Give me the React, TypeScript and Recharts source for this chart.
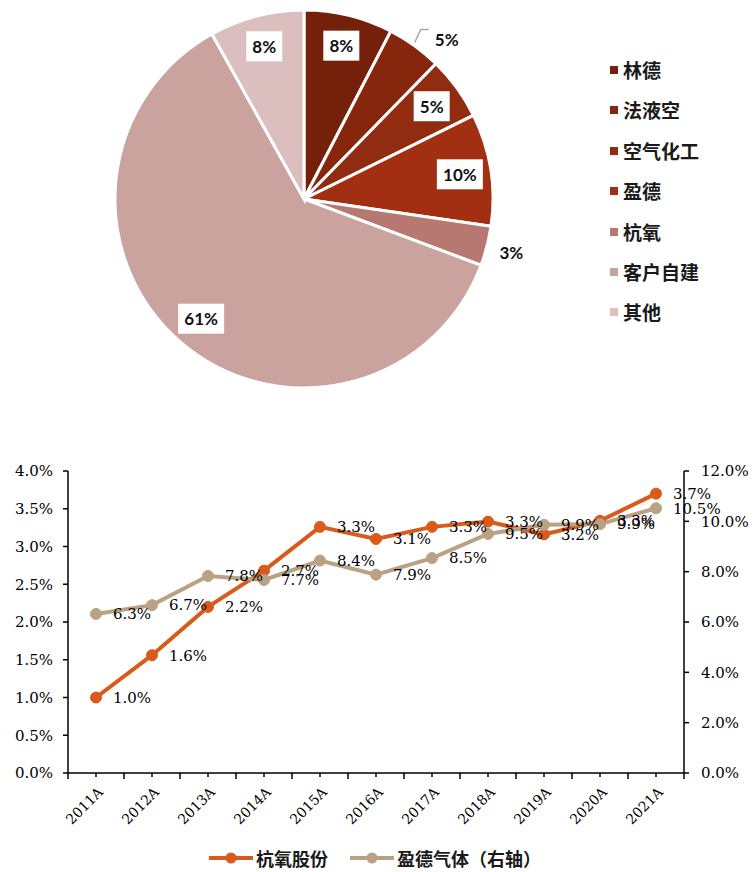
import { PieChart, Pie, Cell, LineChart, Line, XAxis, YAxis, LabelList } from 'recharts';

// 市场份额
const shareNames = ['林德', '法液空', '空气化工', '盈德', '杭氧', '客户自建', '其他'];
const shareValues = [7.6, 4.7, 5.4, 9.6, 3.4, 61.2, 8.1];
const shareColors = ['#74200b', '#86260d', '#922c10', '#a32f12', '#b87872', '#caa39e', '#dbbfbe'];

// 毛利率 / 市占率走势
const years = ['2011A', '2012A', '2013A', '2014A', '2015A', '2016A', '2017A', '2018A', '2019A', '2020A', '2021A'];
const hangyang = [1.0, 1.56, 2.2, 2.68, 3.26, 3.1, 3.26, 3.33, 3.16, 3.34, 3.7];
const yingde = [6.32, 6.67, 7.83, 7.67, 8.44, 7.88, 8.54, 9.5, 9.86, 9.89, 10.52];
const leftTicks = [0, 0.5, 1, 1.5, 2, 2.5, 3, 3.5, 4];
const rightTicks = [0, 2, 4, 6, 8, 10, 12];
const seriesNames = ['杭氧股份', '盈德气体（右轴）'];
const seriesColors = ['#d95b1b', '#b8a283'];

const pieData = shareNames.map((name, i) => ({ name, value: shareValues[i] }));
const lineData = years.map((year, i) => ({ year, hy: hangyang[i], yd: yingde[i] }));

const RAD = Math.PI / 180;
const serif = '"DejaVu Serif", serif';
const cjk = '"Noto Sans CJK SC", sans-serif';

const W = 754;
const LEFT_W = 68;
const RIGHT_W = 70;
const HALF_BAND = (W - LEFT_W - RIGHT_W) / years.length / 2;

function PieLabel(props: any) {
  const { cx, cy, midAngle, outerRadius, value, index } = props;
  const text = `${Math.round(value)}%`;
  const outside = index === 1 || index === 4;
  if (outside) {
    const ang = index === 1 ? midAngle - 6 : midAngle;
    const r = outerRadius + 25;
    const x = cx + r * Math.cos(-ang * RAD);
    const y = cy + r * Math.sin(-ang * RAD);
    return (
      <g>
        {index === 1 && (
          <polyline
            points={`${x - 32},${y + 3} ${x - 26},${y - 10} ${x - 18},${y - 10}`}
            fill="none"
            stroke="#a6a6a6"
            strokeWidth={1.5}
          />
        )}
        <text x={x} y={y} textAnchor="middle" dominantBaseline="central" fontFamily="Lato, sans-serif" fontWeight="bold" fontSize={17} fill="#111">
          {text}
        </text>
      </g>
    );
  }
  const r = outerRadius * 0.835;
  const x = cx + r * Math.cos(-midAngle * RAD);
  const y = cy + r * Math.sin(-midAngle * RAD);
  const bw = text.length * 10 + 16;
  return (
    <g>
      <rect x={x - bw / 2} y={y - 15} width={bw} height={30} fill="#fff" />
      <text x={x} y={y} textAnchor="middle" dominantBaseline="central" fontFamily="Lato, sans-serif" fontWeight="bold" fontSize={17} fill="#111">
        {text}
      </text>
    </g>
  );
}

function YearTick(props: any) {
  const { x, y, payload, index } = props;
  const ax = x + 8;
  const ay = y + 20;
  return (
    <g>
      <line x1={x} y1={y} x2={x} y2={y + 4} stroke="#000" strokeWidth={1.5} />
      <line x1={x + HALF_BAND} y1={y} x2={x + HALF_BAND} y2={y + 6} stroke="#000" strokeWidth={1.5} />
      {index === 0 && <line x1={x - HALF_BAND} y1={y} x2={x - HALF_BAND} y2={y + 6} stroke="#000" strokeWidth={1.5} />}
      <text x={ax} y={ay} transform={`rotate(-45 ${ax} ${ay})`} textAnchor="end" fontFamily={serif} fontSize={14} fill="#000">
        {payload.value}
      </text>
    </g>
  );
}

const pct = (v: any) => `${Number(v).toFixed(1)}%`;

export default function App() {
  return (
    <div style={{ position: 'absolute', left: 0, top: 0, width: W, height: 872, background: '#fff', overflow: 'hidden' }}>
      <div style={{ position: 'absolute', left: 0, top: 0 }}>
        <PieChart width={600} height={400} margin={{ top: 0, right: 0, bottom: 0, left: 0 }}>
          <Pie
            data={pieData}
            dataKey="value"
            cx={304}
            cy={199}
            outerRadius={189}
            startAngle={90}
            endAngle={-270}
            stroke="#fff"
            strokeWidth={3}
            label={PieLabel}
            labelLine={false}
            isAnimationActive={false}
          >
            {pieData.map((d, i) => (
              <Cell key={d.name} fill={shareColors[i]} />
            ))}
          </Pie>
        </PieChart>
      </div>

      {shareNames.map((name, i) => (
        <div
          key={name}
          style={{ position: 'absolute', left: 610, top: 70 + i * 40.4 - 12, height: 24, display: 'flex', alignItems: 'center' }}
        >
          <span style={{ width: 8, height: 8, background: shareColors[i], display: 'inline-block' }} />
          <span style={{ marginLeft: 5, fontFamily: cjk, fontSize: 19, lineHeight: '24px', color: '#1a1a1a', fontWeight: 'bold' }}>{name}</span>
        </div>
      ))}

      <div style={{ position: 'absolute', left: 0, top: 440 }}>
        <LineChart width={W} height={432} data={lineData} margin={{ top: 31, right: 0, bottom: 0, left: 0 }}>
          <XAxis
            dataKey="year"
            scale="band"
            height={99}
            axisLine={{ stroke: '#000', strokeWidth: 1.5 }}
            tickLine={false}
            tickSize={0}
            tickMargin={0}
            interval={0}
            tick={YearTick}
          />
          <YAxis
            yAxisId="left"
            width={LEFT_W}
            domain={[0, 4]}
            ticks={leftTicks}
            tickFormatter={pct}
            axisLine={{ stroke: '#000', strokeWidth: 1.5 }}
            tickLine={{ stroke: '#000', strokeWidth: 1.5 }}
            tickSize={5}
            tickMargin={10}
            tick={{ fontFamily: serif, fontSize: 15, fill: '#000' }}
          />
          <YAxis
            yAxisId="right"
            orientation="right"
            width={RIGHT_W}
            domain={[0, 12]}
            ticks={rightTicks}
            tickFormatter={pct}
            axisLine={{ stroke: '#000', strokeWidth: 1.5 }}
            tickLine={{ stroke: '#000', strokeWidth: 1.5 }}
            tickSize={5}
            tickMargin={12}
            tick={{ fontFamily: serif, fontSize: 15, fill: '#000' }}
          />
          <Line
            yAxisId="left"
            type="linear"
            dataKey="hy"
            stroke={seriesColors[0]}
            strokeWidth={4}
            dot={{ r: 5.5, fill: seriesColors[0], stroke: seriesColors[0], strokeWidth: 1 }}
            isAnimationActive={false}
          >
            <LabelList dataKey="hy" position="right" offset={17} formatter={pct} style={{ fontFamily: serif, fontSize: 15, fill: '#000' }} />
          </Line>
          <Line
            yAxisId="right"
            type="linear"
            dataKey="yd"
            stroke={seriesColors[1]}
            strokeWidth={4}
            dot={{ r: 5.5, fill: seriesColors[1], stroke: seriesColors[1], strokeWidth: 1 }}
            isAnimationActive={false}
          >
            <LabelList dataKey="yd" position="right" offset={17} formatter={pct} style={{ fontFamily: serif, fontSize: 15, fill: '#000' }} />
          </Line>
        </LineChart>
      </div>

      <div style={{ position: 'absolute', left: 209, top: 847, height: 22, display: 'flex', alignItems: 'center' }}>
        {seriesNames.map((name, i) => (
          <div key={name} style={{ display: 'flex', alignItems: 'center', marginRight: 22 }}>
            <svg width={44} height={14}>
              <line x1={0} y1={7} x2={44} y2={7} stroke={seriesColors[i]} strokeWidth={4} />
              <circle cx={22} cy={7} r={5.5} fill={seriesColors[i]} />
            </svg>
            <span style={{ marginLeft: 3, fontFamily: cjk, fontSize: 18, lineHeight: '22px', color: '#1a1a1a', fontWeight: 'bold' }}>{name}</span>
          </div>
        ))}
      </div>
    </div>
  );
}
